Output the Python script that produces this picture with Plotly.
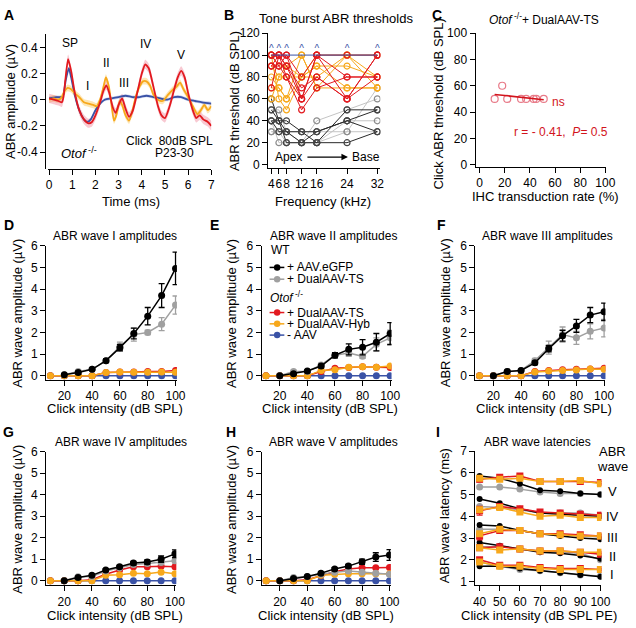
import numpy as np
import plotly.graph_objects as go

W, H = 636, 628
FONT = "Liberation Sans, Arial, sans-serif"

BLACK = "#000000"
GRAY = "#a0a0a0"
RED = "#e2191f"
ORANGE = "#f7a81b"
BLUE = "#3a52a6"

# ---------------- A: example ABR traces (click 80 dB SPL) ----------------
a_red_t = [0.0, 0.2, 0.4, 0.55, 0.62, 0.7, 0.82, 0.95, 1.1, 1.3, 1.5, 1.7, 1.85, 2.0, 2.2, 2.35,
           2.47, 2.6, 2.75, 2.87, 3.0, 3.15, 3.3, 3.45, 3.6, 3.8, 4.0, 4.15, 4.3, 4.5, 4.7, 4.85,
           5.0, 5.2, 5.4, 5.55, 5.7, 5.85, 6.0, 6.2, 6.35, 6.5, 6.65, 6.85, 7.0]
a_red_v = [0.01, 0.0, -0.01, -0.02, 0.02, 0.15, 0.31, 0.22, 0.06, -0.08, -0.15, -0.18, -0.17, -0.12,
           -0.02, 0.07, 0.11, 0.05, -0.06, -0.1, -0.04, 0.01, -0.07, -0.13, -0.09, 0.05, 0.2, 0.27,
           0.24, 0.1, -0.05, -0.12, -0.14, -0.05, 0.08, 0.17, 0.22, 0.17, 0.05, -0.08, -0.14, -0.12,
           -0.15, -0.17, -0.2]
a_red_sem = 0.035

a_orange_t = [0.0, 0.2, 0.4, 0.55, 0.65, 0.8, 0.95, 1.1, 1.3, 1.5, 1.7, 1.9, 2.05, 2.2, 2.35, 2.45,
              2.58, 2.7, 2.8, 2.9, 3.05, 3.15, 3.3, 3.45, 3.6, 3.75, 3.9, 4.05, 4.2, 4.35, 4.5, 4.7,
              4.9, 5.1, 5.3, 5.5, 5.65, 5.8, 6.0, 6.2, 6.4, 6.55, 6.7, 6.85, 7.0]
a_orange_v = [0.0, 0.01, 0.0, 0.02, 0.06, 0.09, 0.08, 0.05, 0.02, -0.02, -0.03, -0.04, -0.05, 0.0,
              0.1, 0.17, 0.1, -0.05, -0.16, -0.12, -0.01, -0.04, -0.12, -0.16, -0.08, 0.03, 0.1,
              0.14, 0.14, 0.11, 0.04, 0.0, -0.01, 0.03, 0.07, 0.1, 0.13, 0.08, 0.02, -0.05, -0.11,
              -0.08, -0.04, -0.08, -0.05]
a_orange_sem = 0.025

a_blue_t = [0.0, 0.3, 0.55, 0.62, 0.72, 0.85, 0.95, 1.1, 1.3, 1.5, 1.65, 1.8, 2.0, 2.2, 2.4, 2.7,
            3.0, 3.3, 3.6, 3.9, 4.2, 4.5, 4.8, 5.1, 5.4, 5.7, 6.0, 6.3, 6.6, 7.0]
a_blue_v = [0.01, 0.02, 0.02, 0.04, 0.15, 0.24, 0.17, 0.04, -0.08, -0.15, -0.17, -0.15, -0.08, -0.03,
            0.0, 0.01, 0.02, 0.03, 0.02, 0.02, 0.03, 0.02, 0.01, 0.0, 0.02, 0.02, 0.0, -0.01, -0.02,
            -0.03]
a_blue_sem = 0.012

# ---------------- B: tone burst thresholds per animal ----------------
b_freq = [4, 6, 8, 12, 16, 24, 32]
b_wt_ts = [
    [50, 50, 30, 20, 40, 50, 60],
    [30, 30, 30, 30, 30, 30, 30],
    [40, 20, 20, 20, 20, 40, 40],
    [30, 30, 20, 20, 20, 30, 70],
]
b_wt_gfp = [
    [60, 40, 30, 20, 20, 20, 30],
    [40, 40, 20, 20, 30, 40, 50],
    [40, 30, 30, 30, 20, 50, 50],
    [50, 40, 40, 30, 30, 40, 30],
]
b_ko_hyb = [
    [100, 90, 90, 80, 100, 100, 100],
    [90, 80, 80, 80, 90, 90, 80],
    [70, 70, 60, 100, 70, 70, 70],
    [100, 60, 50, 80, 80, 100, 80],
    [60, 80, 90, 100, 70, 100, 70],
    [80, 70, 60, 80, 90, 70, 70],
]
b_ko_ts = [
    [90, 90, 80, 60, 100, 80, 80],
    [70, 100, 90, 70, 80, 60, 100],
    [100, 90, 100, 60, 100, 60, 100],
    [100, 100, 80, 50, 70, 80, 80],
    [90, 100, 100, 80, 100, 100, 100],
    [100, 100, 90, 60, 80, 60, 80],
]
b_ko_none = [100, 100, 100, 100, 100, 100, 100]

# ---------------- C: threshold vs IHC transduction ----------------
c_rate = [12, 18, 22, 33, 37, 43, 45, 51]
c_thr = [50, 60, 50, 50, 50, 50, 50, 50]

# ---------------- D-H: wave amplitudes ----------------
amp_x_wt = [20, 30, 40, 50, 60, 70, 80, 90, 100]
amp_x_ko = [10, 20, 30, 40, 50, 60, 70, 80, 90, 100]
ko_none_amp = [0, 0, 0, 0, 0, 0, 0, 0, 0, 0]

w1_wt_gfp = [0.05, 0.15, 0.3, 0.7, 1.3, 1.95, 2.75, 3.7, 4.95]
w1_wt_gfp_err = [0.02, 0.05, 0.05, 0.08, 0.15, 0.25, 0.4, 0.55, 0.75]
w1_wt_ts = [0.05, 0.2, 0.3, 0.7, 1.35, 1.9, 2.0, 2.38, 3.26]
w1_wt_ts_err = [0.02, 0.05, 0.05, 0.08, 0.2, 0.3, 0.1, 0.3, 0.42]
w1_ko_ts = [0, 0, 0, 0, 0.15, 0.18, 0.18, 0.2, 0.2, 0.25]
w1_ko_hyb = [0, 0, 0, 0, 0.15, 0.18, 0.17, 0.17, 0.18, 0.17]

w2_wt_gfp = [0.0, 0.1, 0.22, 0.45, 0.95, 1.22, 1.32, 1.55, 1.95]
w2_wt_gfp_err = [0.02, 0.05, 0.05, 0.08, 0.12, 0.25, 0.35, 0.4, 0.5]
w2_wt_ts = [0.0, 0.2, 0.2, 0.5, 0.95, 1.05, 0.9, 1.45, 1.75]
w2_wt_ts_err = [0.02, 0.05, 0.05, 0.08, 0.12, 0.15, 0.1, 0.3, 0.35]
w2_ko_ts = [0, 0, 0, 0, 0.2, 0.35, 0.38, 0.42, 0.4, 0.38]
w2_ko_hyb = [0, 0, 0, 0, 0.25, 0.28, 0.4, 0.42, 0.4, 0.45]

w3_wt_gfp = [0.0, 0.2, 0.25, 0.6, 1.25, 1.85, 2.3, 2.8, 2.95]
w3_wt_gfp_err = [0.02, 0.05, 0.05, 0.08, 0.15, 0.25, 0.3, 0.35, 0.4]
w3_wt_ts = [0.0, 0.2, 0.25, 0.7, 1.3, 1.9, 1.75, 2.05, 2.2]
w3_wt_ts_err = [0.02, 0.05, 0.05, 0.1, 0.3, 0.35, 0.3, 0.35, 0.4]
w3_ko_ts = [0, 0, 0, 0, 0.2, 0.25, 0.28, 0.3, 0.32, 0.35]
w3_ko_hyb = [0, 0, 0, 0, 0.18, 0.22, 0.25, 0.27, 0.32, 0.3]

w4_wt_gfp = [0.0, 0.15, 0.25, 0.5, 0.65, 0.82, 0.87, 1.0, 1.25]
w4_wt_gfp_err = [0.02, 0.03, 0.04, 0.05, 0.06, 0.08, 0.1, 0.15, 0.18]
w4_wt_ts = [0.0, 0.18, 0.2, 0.45, 0.6, 0.75, 0.8, 0.85, 0.93]
w4_wt_ts_err = [0.02, 0.03, 0.03, 0.05, 0.05, 0.06, 0.07, 0.08, 0.1]
w4_ko_ts = [0, 0, 0, 0.05, 0.3, 0.5, 0.65, 0.65, 0.67, 0.65]
w4_ko_hyb = [0, 0, 0, 0, 0.25, 0.28, 0.35, 0.32, 0.4, 0.33]

w5_wt_gfp = [0.0, 0.1, 0.2, 0.35, 0.55, 0.68, 0.88, 1.1, 1.2]
w5_wt_gfp_err = [0.02, 0.03, 0.03, 0.05, 0.06, 0.08, 0.12, 0.2, 0.25]
w5_wt_ts = [0.0, 0.15, 0.2, 0.3, 0.4, 0.45, 0.4, 0.35, 0.3]
w5_wt_ts_err = [0.02, 0.03, 0.03, 0.04, 0.05, 0.05, 0.05, 0.05, 0.05]
w5_ko_ts = [0, 0, 0, 0.05, 0.25, 0.42, 0.55, 0.6, 0.6, 0.62]
w5_ko_hyb = [0, 0, 0, 0, 0.25, 0.3, 0.32, 0.32, 0.32, 0.33]

# ---------------- I: wave latencies (rows = wave I..V) ----------------
lat_x = [40, 50, 60, 70, 80, 90, 100]
lat_wt_gfp = [
    [1.7, 1.72, 1.6, 1.5, 1.4, 1.3, 1.22],
    [2.8, 2.65, 2.5, 2.35, 2.3, 2.2, 2.05],
    [3.6, 3.55, 3.35, 3.2, 3.1, 3.0, 2.95],
    [4.8, 4.6, 4.35, 4.15, 4.1, 4.05, 4.0],
    [5.85, 5.75, 5.5, 5.2, 5.15, 5.05, 5.0],
]
lat_wt_ts = [
    [1.9, 1.7, 1.55, 1.5, 1.4, 1.3, 1.25],
    [2.6, 2.6, 2.5, 2.4, 2.35, 2.3, 2.0],
    [3.4, 3.4, 3.35, 3.2, 3.15, 3.1, 3.05],
    [4.45, 4.4, 4.3, 4.15, 4.15, 4.15, 4.05],
    [5.35, 5.35, 5.25, 5.12, 5.05, 5.05, 5.0],
]
lat_ko_hyb = [
    [1.9, 1.7, 1.7, 1.6, 1.55, 1.55, 1.55],
    [2.55, 2.45, 2.5, 2.4, 2.4, 2.35, 2.35],
    [3.2, 3.4, 3.35, 3.2, 3.15, 3.1, 3.1],
    [4.3, 4.4, 4.2, 4.0, 4.05, 3.95, 3.95],
    [5.75, 5.7, 5.75, 5.6, 5.6, 5.65, 5.5],
]
lat_ko_ts = [
    [2.0, 1.75, 1.75, 1.65, 1.6, 1.6, 1.55],
    [2.55, 2.6, 2.5, 2.4, 2.4, 2.35, 2.25],
    [3.1, 3.35, 3.35, 3.2, 3.2, 3.15, 3.1],
    [4.25, 4.45, 4.35, 4.2, 4.15, 4.1, 4.05],
    [5.7, 5.8, 5.85, 5.6, 5.6, 5.6, 5.55],
]
lat_ko_ts_err = [
    [0.08, 0.05, 0.05, 0.04, 0.04, 0.04, 0.04],
    [0.12, 0.08, 0.06, 0.05, 0.05, 0.05, 0.05],
    [0.18, 0.08, 0.06, 0.05, 0.05, 0.05, 0.05],
    [0.2, 0.1, 0.08, 0.06, 0.06, 0.06, 0.06],
    [0.12, 0.1, 0.08, 0.06, 0.06, 0.06, 0.06],
]
wave_names = ["I", "II", "III", "IV", "V"]


def fx(p):
    return p / W


def fy(p):
    return 1 - p / H


fig = go.Figure()

# panel boxes in pixels: left, right, top, bottom
boxes = {
    1: ((47, 213, 28, 165), [-0.04, 7.0], [-0.528, 0.498]),
    2: ((271, 385, 26.7, 164), [3.2, 32.8], [-3, 120]),
    3: ((482, 615, 26.7, 163), [-3.1, 100.8], [-1.7, 100]),
    4: ((45, 178, 243.3, 380), [7, 101], [-0.18, 6]),
    5: ((264.4, 396.4, 243.3, 380), [7, 101], [-0.18, 6]),
    6: ((481.7, 614.1, 243.3, 380), [7, 101], [-0.18, 6]),
    7: ((45, 177.4, 453.3, 589.3), [7, 101], [-0.2, 6]),
    8: ((264.6, 395.7, 453.3, 589.3), [7, 101], [-0.2, 6]),
    9: ((481.7, 610, 452.7, 589.3), [37.9, 100.5], [0.84, 7]),
}


def ax_style(**kw):
    d = dict(showline=True, linecolor="black", linewidth=1.3, ticks="outside", ticklen=5,
             tickwidth=1.3, tickcolor="black", showgrid=False, zeroline=False, tickangle=0,
             tickfont=dict(size=12, color="black", family=FONT))
    d.update(kw)
    return d


layout_axes = {}
for n, ((l, r, t, b), xr, yr) in boxes.items():
    sx = "" if n == 1 else str(n)
    layout_axes["xaxis" + sx] = ax_style(domain=[fx(l), fx(r)], range=xr, anchor="y" + sx)
    layout_axes["yaxis" + sx] = ax_style(domain=[fy(b), fy(t)], range=yr, anchor="x" + sx)

layout_axes["xaxis"].update(tickvals=[0, 1, 2, 3, 4, 5, 6, 7])
layout_axes["yaxis"].update(tickvals=[-0.4, -0.2, 0, 0.2, 0.4],
                            ticktext=["-0.4", "-0.2", "0", "0.2", "0.4"],
                            anchor="free", position=fx(44))
layout_axes["xaxis2"].update(tickvals=b_freq)
layout_axes["yaxis2"].update(tickvals=[0, 20, 40, 60, 80, 100, 120])
layout_axes["xaxis3"].update(tickvals=[0, 20, 40, 60, 80, 100])
layout_axes["yaxis3"].update(tickvals=[0, 20, 40, 60, 80, 100])
for n in range(4, 9):
    layout_axes["xaxis%d" % n].update(tickvals=[20, 40, 60, 80, 100])
    layout_axes["yaxis%d" % n].update(tickvals=[0, 1, 2, 3, 4, 5, 6])
layout_axes["xaxis9"].update(tickvals=lat_x)
layout_axes["yaxis9"].update(tickvals=[1, 2, 3, 4, 5, 6, 7])


def ref(n):
    return ("x", "y") if n == 1 else ("x%d" % n, "y%d" % n)


# ---- A ----
for t, v, sem, col, band in [
    (a_blue_t, a_blue_v, a_blue_sem, BLUE, "rgba(120,140,215,0.35)"),
    (a_orange_t, a_orange_v, a_orange_sem, ORANGE, "rgba(250,200,90,0.45)"),
    (a_red_t, a_red_v, a_red_sem, RED, "rgba(235,100,125,0.35)"),
]:
    up = [a + sem for a in v]
    lo = [a - sem for a in v]
    fig.add_trace(go.Scatter(x=t + t[::-1], y=up + lo[::-1], fill="toself", fillcolor=band,
                             mode="lines", line=dict(width=0, shape="spline", smoothing=0.6),
                             hoverinfo="skip", showlegend=False, xaxis="x", yaxis="y"))
for t, v, col in [(a_blue_t, a_blue_v, BLUE), (a_orange_t, a_orange_v, ORANGE),
                  (a_red_t, a_red_v, RED)]:
    fig.add_trace(go.Scatter(x=t, y=v, mode="lines",
                             line=dict(color=col, width=1.8, shape="spline", smoothing=0.6),
                             showlegend=False, xaxis="x", yaxis="y"))

# ---- B ----
for rows, col, mcol in [(b_wt_ts, "#c4c4c4", "#8c8c8c"), (b_wt_gfp, "#2a2a2a", "#444444"),
                        (b_ko_hyb, ORANGE, ORANGE), (b_ko_ts, RED, RED)]:
    for row in rows:
        fig.add_trace(go.Scatter(x=b_freq, y=row, mode="lines+markers",
                                 line=dict(color=col, width=1),
                                 marker=dict(symbol="circle-open", size=6, color=mcol,
                                             line=dict(width=1.2, color=mcol)),
                                 showlegend=False, xaxis="x2", yaxis="y2"))
fig.add_trace(go.Scatter(x=b_freq, y=b_ko_none, mode="lines", line=dict(color=BLUE, width=1),
                         showlegend=False, xaxis="x2", yaxis="y2"))
fig.add_trace(go.Scatter(x=b_freq, y=[v + 5 for v in b_ko_none], mode="text",
                         text=["^"] * len(b_freq), textfont=dict(color=BLUE, size=10, family=FONT),
                         showlegend=False, xaxis="x2", yaxis="y2"))

# ---- C ----
fig.add_trace(go.Scatter(x=c_rate, y=c_thr, mode="markers",
                         marker=dict(symbol="circle-open", size=7, color="#e87a88",
                                     line=dict(width=1.2, color="#e87a88")),
                         showlegend=False, xaxis="x3", yaxis="y3"))
slope, icpt = np.polyfit(c_rate, c_thr, 1)
fit_x = [min(c_rate), max(c_rate)]
fig.add_trace(go.Scatter(x=fit_x, y=[slope * v + icpt for v in fit_x], mode="lines",
                         line=dict(color="#d2141c", width=1.5),
                         showlegend=False, xaxis="x3", yaxis="y3"))


# ---- D-H ----
def series(n, x, y, col, err=None, symbol="circle", size=7):
    xa, ya = ref(n)
    fig.add_trace(go.Scatter(
        x=x, y=y, mode="lines+markers", line=dict(color=col, width=1.5),
        marker=dict(color=col, size=size, symbol=symbol),
        error_y=dict(type="data", array=err, color=col, thickness=1.3, width=3,
                     visible=err is not None),
        showlegend=False, xaxis=xa, yaxis=ya))


amp_sets = [
    (4, w1_wt_gfp, w1_wt_gfp_err, w1_wt_ts, w1_wt_ts_err, w1_ko_ts, w1_ko_hyb),
    (5, w2_wt_gfp, w2_wt_gfp_err, w2_wt_ts, w2_wt_ts_err, w2_ko_ts, w2_ko_hyb),
    (6, w3_wt_gfp, w3_wt_gfp_err, w3_wt_ts, w3_wt_ts_err, w3_ko_ts, w3_ko_hyb),
    (7, w4_wt_gfp, w4_wt_gfp_err, w4_wt_ts, w4_wt_ts_err, w4_ko_ts, w4_ko_hyb),
    (8, w5_wt_gfp, w5_wt_gfp_err, w5_wt_ts, w5_wt_ts_err, w5_ko_ts, w5_ko_hyb),
]
for n, gfp, gfp_e, ts, ts_e, ko_ts, ko_hyb in amp_sets:
    series(n, amp_x_ko, ko_none_amp, BLUE)
    series(n, amp_x_ko, ko_ts, RED)
    series(n, amp_x_ko, ko_hyb, ORANGE)
    series(n, amp_x_wt, ts, GRAY, ts_e)
    series(n, amp_x_wt, gfp, BLACK, gfp_e)

# ---- I ----
for w in range(5):
    series(9, lat_x, lat_wt_ts[w], GRAY, size=7)
    series(9, lat_x, lat_wt_gfp[w], BLACK, size=6)
    series(9, lat_x, lat_ko_ts[w], RED, lat_ko_ts_err[w], symbol="square", size=7)
    series(9, lat_x, lat_ko_hyb[w], ORANGE, symbol="square", size=7)

# ---------------- text ----------------
anns = []


def txt(text, x, y, size=12, color="black", xanchor="center", angle=0, bold=False):
    if bold:
        text = "<b>%s</b>" % text
    anns.append(dict(text=text, x=fx(x), y=fy(y), xref="paper", yref="paper", showarrow=False,
                     xanchor=xanchor, yanchor="middle", textangle=angle, borderpad=0,
                     font=dict(size=size, color=color, family=FONT)))


for lab, x, y in [("A", 1, 8), ("B", 225, 8), ("C", 437, 8), ("D", 1, 222), ("E", 211, 222),
                  ("F", 442, 222), ("G", 0, 433), ("H", 227, 433), ("I", 441, 433)]:
    txt(lab, x, y, size=14, xanchor="left", bold=True)

# A
for lab, x, y in [("SP", 69, 37), ("I", 87, 81), ("II", 106, 57), ("III", 124, 77),
                  ("IV", 146, 38), ("V", 182, 49)]:
    txt(lab, x, y, size=12)
txt("Click  80dB SPL", 170, 137)
txt("P23-30", 176, 149)
txt("<i>Otof</i><sup> -/-</sup>", 78, 149, size=13)
txt("ABR amplitude (µV)", 8, 96, size=13, angle=-90)
txt("Time (ms)", 131, 198, size=13)

# B
txt("Tone burst ABR thresholds", 340, 12, size=13)
txt("Apex", 292, 153)
txt("Base", 370, 153)
anns.append(dict(x=fx(352), y=fy(153), xref="paper", yref="paper", ax=-42, ay=0,
                 showarrow=True, arrowhead=2, arrowsize=1, arrowwidth=1.3, arrowcolor="black",
                 text=""))
txt("ABR threshold (dB SPL)", 236, 96, size=13, angle=-90)
txt("Frequency (kHz)", 327, 198, size=13)

# C
txt("<i>Otof</i><sup> -/-</sup>+ DualAAV-TS", 552, 12, size=12)
txt("ns", 566, 97, color="#d2141c")
txt("r = - 0.41,  <i>P</i>= 0.5", 569, 127, color="#d2141c")
txt("Click ABR threshold (dB SPL)", 444, 99, size=13, angle=-90)
txt("IHC transduction rate (%)", 553, 193, size=13)

# D-H
for title, cx, cy in [("ABR wave I amplitudes", 115, 233), ("ABR wave II amplitudes", 337, 233),
                      ("ABR wave III amplitudes", 555, 233), ("ABR wave IV amplitudes", 121, 443),
                      ("ABR wave V amplitudes", 337, 443)]:
    txt(title, cx, cy)
for x, y in [(15, 312), (233, 312), (451, 312), (15, 522), (233, 522)]:
    txt("ABR wave amplitude (µV)", x, y, size=13, angle=-90)
for x, y in [(115, 409), (334, 409), (552, 409), (115, 620), (330, 620)]:
    txt("Click intensity (dB SPL)", x, y, size=13)

# I
txt("ABR wave latencies", 545, 443)
txt("ABR wave latency (ms)", 450, 519, size=13, angle=-90)
txt("Click intensity (dB SPL PE)", 546, 620, size=13)
txt("ABR", 621, 453, size=13)
txt("wave", 621, 468, size=13)
for lab, y in zip(wave_names, [579, 560, 541, 519, 494]):
    txt(lab, 621, y, size=13)

# legend in E (drawn by hand as in the original)
shapes = []
txt("WT", 273, 248, size=12, xanchor="left")
txt("<i>Otof</i><sup> -/-</sup>", 272, 296, size=12, xanchor="left")
for lab, col, y in [("+ AAV.eGFP", BLACK, 265.5), ("+ DualAAV-TS", GRAY, 277.5),
                    ("+ DualAAV-TS", RED, 311.5), ("+ DualAAV-Hyb", ORANGE, 323),
                    ("- AAV", BLUE, 334.5)]:
    shapes.append(dict(type="line", xref="paper", yref="paper", x0=fx(272.3), x1=fx(287.3),
                       y0=fy(y), y1=fy(y), line=dict(color=col, width=1.5)))
    shapes.append(dict(type="circle", xref="paper", yref="paper", x0=fx(276.7), x1=fx(283.3),
                       y0=fy(y + 3.3), y1=fy(y - 3.3), fillcolor=col, line=dict(width=0)))
    txt(lab, 289, y, size=12, xanchor="left")

fig.update_layout(width=W, height=H, margin=dict(l=0, r=0, t=0, b=0),
                  paper_bgcolor="white", plot_bgcolor="white",
                  font=dict(family=FONT, size=12, color="black"),
                  annotations=anns, shapes=shapes, showlegend=False, **layout_axes)

fig.write_html("out.html", config={"displayModeBar": False},
               post_script="document.body.style.margin='0';")
